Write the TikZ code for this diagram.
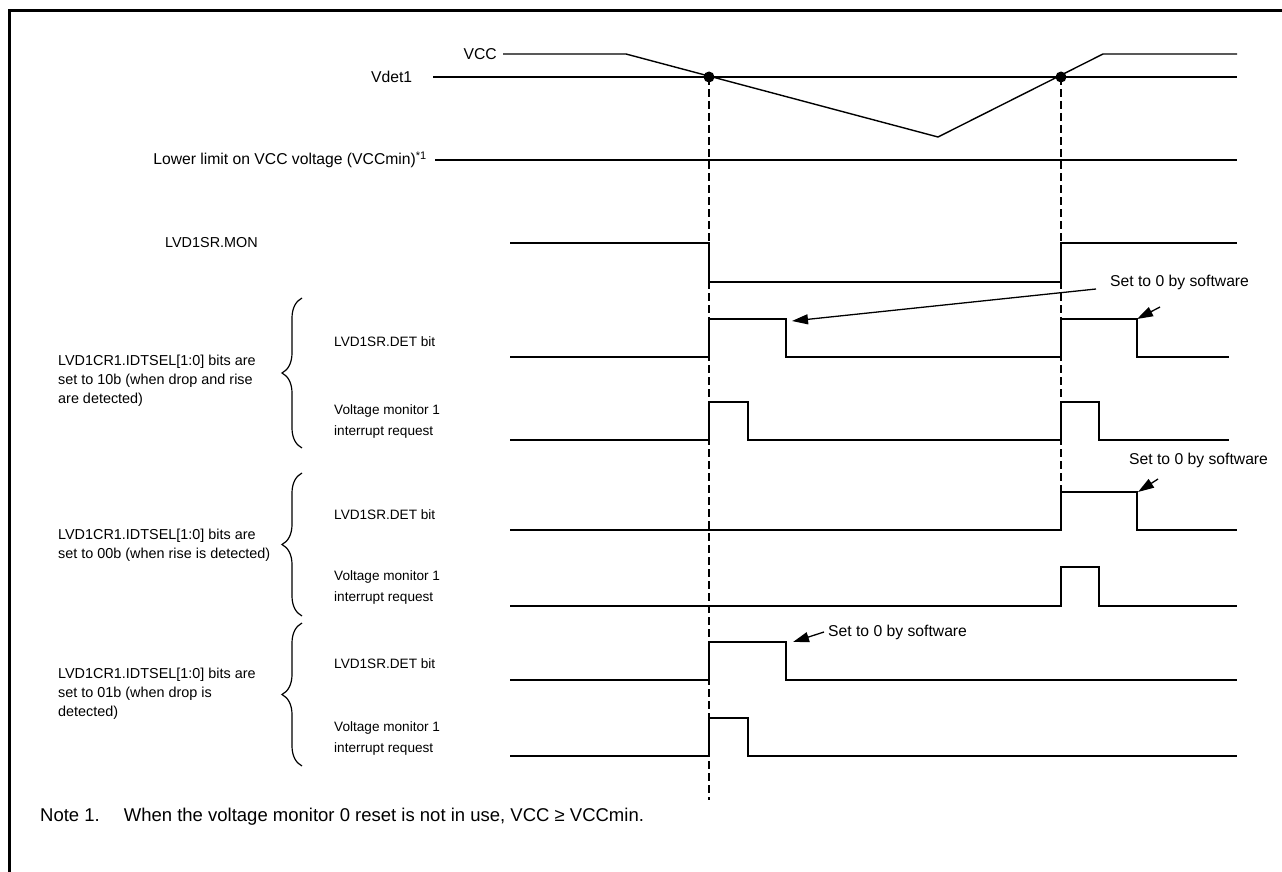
\documentclass[tikz,border=0pt]{standalone}
\usepackage{fontspec}
\setmainfont{Liberation Sans}
\usetikzlibrary{arrows.meta,decorations.pathreplacing}
\begin{document}
\begin{tikzpicture}[x=1pt,y=-1pt,
  sig/.style={line width=1.4pt, line join=miter},
  lbl/.style={inner sep=0pt, font=\fontsize{15.7}{19}\selectfont},
  sidelbl/.style={inner sep=0pt, align=left, font=\fontsize{14.4}{19}\selectfont},
  siglbl/.style={inner sep=0pt, align=left, font=\fontsize{13.6}{21}\selectfont},
  notelbl/.style={inner sep=0pt, font=\fontsize{18.5}{22}\selectfont},
  dashline/.style={line width=2.4pt, dash pattern=on 8pt off 4pt},
  dotmark/.style={circle, fill=black, inner sep=0pt, minimum size=11pt},
  callout/.style={line width=1.3pt, -{Triangle[length=16pt,width=10pt]}},
  bracestyle/.style={line width=1.2pt, decorate, decoration={brace, amplitude=20pt}},
  framestyle/.style={line width=3pt}
]
\useasboundingbox (0,0) rectangle (1282,872);
\draw[framestyle] (9,872) -- (9,11) -- (1282,11);

% top analog section
\node[lbl, anchor=east] (vccl) at (497,54) {VCC};
\node[lbl, anchor=west] (vdetl) at (371,77) {Vdet1};
\node[lbl, anchor=east] (lowl) at (427,160) {Lower limit on VCC voltage (VCCmin)\textsuperscript{*1}};
\draw[sig] (503,54) -- (626,54) -- (938,137) -- (1103,54) -- (1237,54);
\draw[sig] (433,77) -- (1237,77);
\draw[sig] (435,160) -- (1237,160);

\node[dotmark] (d1) at (709,77) {};
\node[dotmark] (d2) at (1061,77) {};
\coordinate (e1) at (709,800);
\coordinate (e2) at (1061,530);
\draw[dashline] (d1.center) -- (e1);
\draw[dashline] (d2.center) -- (e2);

% MON
\node[sidelbl, anchor=west] (monl) at (165,243) {LVD1SR.MON};
\draw[sig] (510,243) -- (709,243) -- (709,282) -- (1061,282) -- (1061,243) -- (1237,243);

% section 1
\node[sidelbl, anchor=west] (sel1) at (58,381) {LVD1CR1.IDTSEL[1:0] bits are\\set to 10b (when drop and rise\\are detected)};
\draw[bracestyle] (302,448) -- (302,298);
\node[siglbl, anchor=west] (det1l) at (334,342) {LVD1SR.DET bit};
\node[siglbl, anchor=west] (int1l) at (334,421) {Voltage monitor 1\\interrupt request};
\draw[sig] (510,357) -- (709,357) -- (709,319) -- (786,319) -- (786,357) -- (1061,357) -- (1061,319) -- (1137,319) -- (1137,357) -- (1229,357);
\draw[sig] (510,440) -- (709,440) -- (709,402) -- (748,402) -- (748,440) -- (1061,440) -- (1061,402) -- (1099,402) -- (1099,440) -- (1229,440);
\node[lbl, anchor=west] (sw1) at (1110,282) {Set to 0 by software};
\coordinate (a1s) at (1096,289);
\coordinate (a1t) at (792,321);
\coordinate (a2s) at (1160,307);
\coordinate (a2t) at (1137,319);
\draw[callout] (a1s) -- (a1t);
\draw[callout] (a2s) -- (a2t);

% section 2
\node[sidelbl, anchor=west] (sel2) at (58,545) {LVD1CR1.IDTSEL[1:0] bits are\\set to 00b (when rise is detected)};
\draw[bracestyle] (302,616) -- (302,473);
\node[siglbl, anchor=west] (det2l) at (334,515) {LVD1SR.DET bit};
\node[siglbl, anchor=west] (int2l) at (334,587) {Voltage monitor 1\\interrupt request};
\draw[sig] (510,530) -- (1061,530) -- (1061,492) -- (1137,492) -- (1137,530) -- (1237,530);
\draw[sig] (510,606) -- (1061,606) -- (1061,567) -- (1099,567) -- (1099,606) -- (1237,606);
\node[lbl, anchor=west] (sw2) at (1129,460) {Set to 0 by software};
\coordinate (a3s) at (1158,479);
\coordinate (a3t) at (1138,492);
\draw[callout] (a3s) -- (a3t);

% section 3
\node[sidelbl, anchor=west] (sel3) at (58,694) {LVD1CR1.IDTSEL[1:0] bits are\\set to 01b (when drop is\\detected)};
\draw[bracestyle] (302,766) -- (302,623);
\node[siglbl, anchor=west] (det3l) at (334,664) {LVD1SR.DET bit};
\node[siglbl, anchor=west] (int3l) at (334,738) {Voltage monitor 1\\interrupt request};
\draw[sig] (510,680) -- (709,680) -- (709,642) -- (786,642) -- (786,680) -- (1237,680);
\draw[sig] (510,756) -- (709,756) -- (709,718) -- (748,718) -- (748,756) -- (1237,756);
\node[lbl, anchor=west] (sw3) at (828,632) {Set to 0 by software};
\coordinate (a4s) at (824,632);
\coordinate (a4t) at (793,642);
\draw[callout] (a4s) -- (a4t);

% note
\node[notelbl, anchor=west] (note) at (40,817) {Note 1.\hspace{24pt}When the voltage monitor 0 reset is not in use, VCC ≥ VCCmin.};
\end{tikzpicture}
\end{document}
